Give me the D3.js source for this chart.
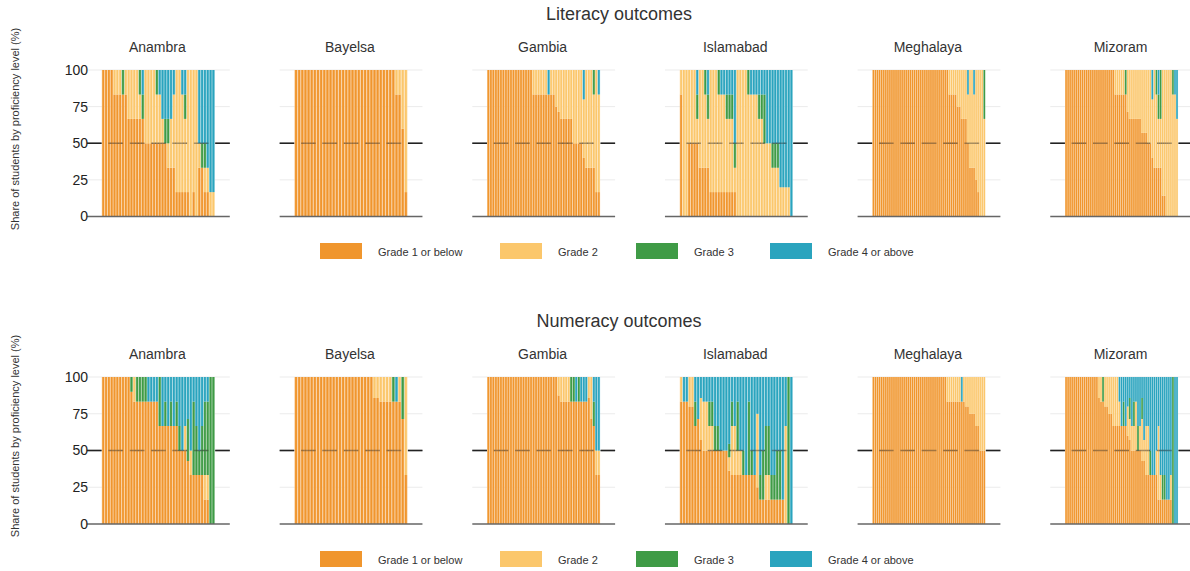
<!DOCTYPE html>
<html>
<head>
<meta charset="utf-8">
<script src="https://cdn.jsdelivr.net/npm/d3@7"></script>
<style>
  html, body { margin: 0; padding: 0; background: #fff; }
  svg text { font-family: "Liberation Sans", Arial, sans-serif; }
</style>
</head>
<body>
<div id="chart"></div>
<script>
// Proficiency levels, stacked bottom to top
const grades = ["Grade 1 or below", "Grade 2", "Grade 3", "Grade 4 or above"];
const gradeColors = ["#F0962E", "#FBC76C", "#3F9B46", "#2AA4BE"];
const regions = ["Anambra", "Bayelsa", "Gambia", "Islamabad", "Meghalaya", "Mizoram"];
const yTicks = [0, 25, 50, 75, 100];

// One entry per school: number of sampled students at each level
// (digits = Grade 1 or below, Grade 2, Grade 3, Grade 4 or above)
const litAnambra = ["6000","6000","6000","6000","5100","5100","5100","5010","5100","4200","4200","4200","4200","4110","4011","3300","3300","3300","3300","3210","3201","3102","3012","2112","2202","2301","1500","1500","1401","1311","1500","0600","1500","0600","2103","2013","1113","1104","0105","0105"];
const litBayelsa = ["6000","6000","6000","6000","6000","6000","6000","6000","6000","6000","6000","6000","6000","6000","6000","6000","6000","6000","6000","6000","6000","6000","6000","6000","6000","6000","6000","6000","6000","6000","6000","6000","5100","5100","3200","1500"];
const litGambia = ["6000","6000","6000","6000","6000","6000","6000","6000","6000","6000","6000","6000","6000","6000","6000","6000","6000","6000","5100","5100","5100","5100","5100","5100","5001","5100","5100","3100","5200","4200","4200","4200","4200","4200","3300","3300","3300","3300","2201","2400","2400","2400","2310","1500","1401"];
const litIslamabad = ["5100","0600","0600","3300","3300","3300","3111","2400","2400","2310","2211","1500","1500","1500","1410","1401","1401","1311","1311","1311","1113","0600","0600","0600","0600","0510","0501","0501","0501","0411","0411","0321","0303","0303","0213","0213","0213","0104","0104","0104","0104","0006"];
const litMeghalaya = ["6000","6000","6000","6000","6000","6000","6000","6000","6000","6000","6000","6000","6000","6000","6000","6000","6000","6000","6000","6000","6000","6000","6000","6000","6000","6000","6000","6000","6000","6000","6000","6000","6000","6000","6000","6000","6000","5100","5100","5100","5100","3100","3100","4200","4200","4200","3201","2400","2400","2301","1300","1500","0600","0600","0420"];
const litMizoram = ["6000","6000","6000","6000","6000","6000","6000","6000","6000","6000","6000","6000","6000","6000","6000","6000","6000","6000","6000","6000","6000","6000","6000","6000","5100","5100","5100","5100","5100","5010","5200","4200","4200","4200","4200","4200","4200","4300","4300","4300","3300","3300","2201","2400","2310","2211","2220","1600","1600","0600","0600","0600","0510","0501","0402"];

const numAnambra = ["6000","6000","6000","6000","6000","6000","6000","6000","6000","6000","9010","5100","5010","5010","5010","5010","5001","5001","5001","5001","4020","4002","4011","4002","4011","4002","4011","3012","3003","3102","3022","2103","2031","2022","2013","2022","1131","1131","0060","0060"];
const numBayelsa = ["6000","6000","6000","6000","6000","6000","6000","6000","6000","6000","6000","6000","6000","6000","6000","6000","6000","6000","6000","6000","6000","6000","6000","6000","6000","6100","6100","5100","5100","5100","5100","5010","5001","5100","5020","2400"];
const numGambia = ["6000","6000","6000","6000","6000","6000","6000","6000","6000","6000","6000","6000","6000","6000","6000","6000","6000","6000","6000","6000","6000","6000","6000","6000","6000","6000","6000","6000","7100","5100","5100","5100","5100","5010","5010","5001","5010","5001","5001","5001","6100","5200","4011","2103","2103"];
const numIslamabad = ["5100","5001","5001","4100","4100","4011","5002","4201","3201","3201","3111","3111","3012","3012","3003","3003","3003","4115","2211","2202","2121","2103","2013","2004","2031","2013","2004","1201","1014","1023","1122","1122","1014","1014","1023","1023","1005","0402","0060","0006"];
const numMeghalaya = ["6000","6000","6000","6000","6000","6000","6000","6000","6000","6000","6000","6000","6000","6000","6000","6000","6000","6000","6000","6000","6000","6000","6000","6000","6000","6000","6000","6000","6000","6000","6000","6000","6000","6000","6000","6000","5100","5100","5100","5100","5100","5100","5100","5001","5100","4100","4100","3100","3100","3100","4200","4200","3300","3300","3300"];
const numMizoram = ["6000","6000","6000","6000","6000","6000","6000","6000","6000","6000","6000","6000","6000","6000","6000","6000","6100","5100","5010","4100","4100","3100","3100","4200","4200","4200","4101","4002","4011","4002","3101","4111","3102","3111","3201","3012","3102","3211","3103","2202","2202","2013","2004","2004","2103","1302","1104","1014","1014","1005","1005","1104","0060","0006","0006"];

const literacyPanels = [litAnambra, litBayelsa, litGambia, litIslamabad, litMeghalaya, litMizoram];
const numeracyPanels = [numAnambra, numBayelsa, numGambia, numIslamabad, numMeghalaya, numMizoram];

// ---- layout ----
const W = 1190, H = 571;
const rows = [
  { title: "Literacy outcomes", titleY: 14, facetY: 47, yBottom: 216.5, yTop: 70, legendY: 251, axisTitleY: 129, panels: literacyPanels },
  { title: "Numeracy outcomes", titleY: 321, facetY: 354, yBottom: 524, yTop: 377, legendY: 559, axisTitleY: 436, panels: numeracyPanels }
];
const firstCenter = 158.3, panelStep = 192.65;
const barHalf = 56.5;           // half-width of the bar area of a panel
const padLeft = 14.8, padRight = 15.0;

const svg = d3.select("#chart").append("svg")
  .attr("width", W).attr("height", H)
  .attr("viewBox", `0 0 ${W} ${H}`);

const lighten = c => d3.interpolateRgb(c, "#ffffff")(0.45);

// turn "5100" into stacked shares in percent
function toShares(code) {
  const counts = code.split("").map(Number);
  const total = d3.sum(counts);
  const row = {};
  counts.forEach((c, k) => row[k] = 100 * c / total);
  return row;
}
const stack = d3.stack().keys([0, 1, 2, 3]);

rows.forEach(row => {
  const y = d3.scaleLinear().domain([0, 100]).range([row.yBottom, row.yTop]);

  svg.append("text")
    .attr("x", 619).attr("y", row.titleY)
    .attr("text-anchor", "middle").attr("dominant-baseline", "central")
    .attr("font-size", 18).attr("fill", "#333")
    .text(row.title);

  svg.append("text")
    .attr("transform", `translate(15,${row.axisTitleY}) rotate(-90)`)
    .attr("text-anchor", "middle").attr("dominant-baseline", "central")
    .attr("font-size", 11).attr("fill", "#333")
    .text("Share of students by proficiency level (%)");

  row.panels.forEach((schools, i) => {
    const cx = firstCenter + i * panelStep;
    const x = d3.scaleBand()
      .domain(d3.range(schools.length))
      .range([cx - barHalf, cx + barHalf])
      .padding(0);
    const p0 = cx - barHalf - padLeft, p1 = cx + barHalf + padRight;
    const g = svg.append("g");

    // light gridlines
    g.selectAll("line.grid").data([25, 75, 100]).join("line")
      .attr("x1", p0).attr("x2", p1)
      .attr("y1", d => y(d)).attr("y2", d => y(d))
      .attr("stroke", "#ebebeb").attr("stroke-width", 1);

    // 50% reference line (7 dashes across the panel)
    const period = (p1 - p0) / 6.685;
    const dash = `${(period * 0.687).toFixed(2)},${(period * 0.313).toFixed(2)}`;
    const ref = () => g.append("line")
      .attr("x1", p0).attr("x2", p1)
      .attr("y1", y(50)).attr("y2", y(50))
      .attr("stroke", "#222").attr("stroke-width", 1.6)
      .attr("stroke-dasharray", dash);
    ref();

    // stacked bars
    const series = stack(schools.map(toShares));
    const bw = x.bandwidth();
    series.forEach((s, k) => {
      const layer = g.append("g");
      layer.selectAll("rect.soft").data(s).join("rect")
        .attr("x", (d, j) => x(j))
        .attr("width", bw)
        .attr("y", d => y(d[1]))
        .attr("height", d => Math.max(0, y(d[0]) - y(d[1])))
        .attr("fill", lighten(gradeColors[k]));
      layer.selectAll("rect.core").data(s).join("rect")
        .attr("x", (d, j) => x(j) + bw * 0.2)
        .attr("width", bw * 0.6)
        .attr("y", d => y(d[1]))
        .attr("height", d => Math.max(0, y(d[0]) - y(d[1])))
        .attr("fill", gradeColors[k]);
    });

    ref().attr("stroke-opacity", 0.38);

    // baseline
    g.append("line")
      .attr("x1", p0).attr("x2", p1)
      .attr("y1", y(0)).attr("y2", y(0))
      .attr("stroke", "#666").attr("stroke-width", 1.6);

    // facet title
    g.append("text")
      .attr("x", cx - 1).attr("y", row.facetY)
      .attr("text-anchor", "middle").attr("dominant-baseline", "central")
      .attr("font-size", 14).attr("fill", "#333")
      .text(regions[i]);

    if (i === 0) {
      const ax = g.append("g")
        .attr("transform", `translate(${p0 + 4},0)`)
        .call(d3.axisLeft(y).tickValues(yTicks).tickSize(0).tickPadding(3));
      ax.select(".domain").remove();
      ax.selectAll("text")
        .attr("font-size", 14).attr("fill", "#222")
        .attr("font-family", "Liberation Sans, Arial, sans-serif");
    }
  });

  // legend
  const legendX = [320, 500, 636, 770];
  const lg = svg.append("g");
  grades.forEach((name, k) => {
    lg.append("rect")
      .attr("x", legendX[k]).attr("y", row.legendY - 8)
      .attr("width", 42).attr("height", 16)
      .attr("fill", gradeColors[k]);
    lg.append("text")
      .attr("x", legendX[k] + 58).attr("y", row.legendY + 1)
      .attr("dominant-baseline", "central")
      .attr("font-size", 11).attr("fill", "#333")
      .text(name);
  });
});
</script>
</body>
</html>
